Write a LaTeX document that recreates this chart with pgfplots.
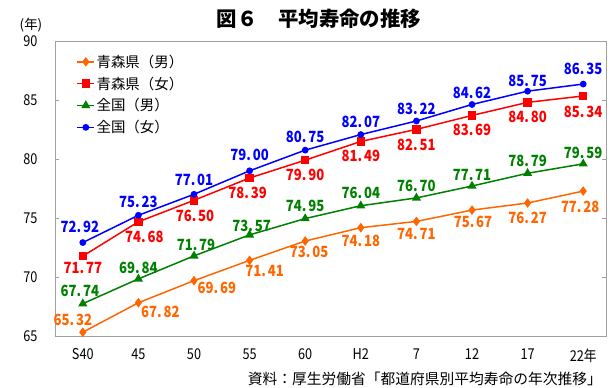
\documentclass[border=0pt]{standalone}
\usepackage{fontspec}
\setmainfont{Noto Sans CJK JP}
\newfontfamily\narrowfont[FakeStretch=0.85]{Noto Sans CJK JP}
\usepackage{pgfplots}
\pgfplotsset{compat=1.18}
\usepackage{pgfplotstable}

\definecolor{cOrange}{RGB}{255,102,0}
\definecolor{cRed}{RGB}{255,0,0}
\definecolor{cGreen}{RGB}{0,128,0}
\definecolor{cBlue}{RGB}{0,0,255}
\definecolor{frameGray}{RGB}{160,160,160}

% columns: position, life expectancy, label offset x/y (bp)
\pgfplotstableread{
x y dx dy
0 65.32 -10 12
1 67.82 22 -9
2 69.69 23 -7
3 71.41 15 -11
4 73.05 4 -11
5 74.18 0 -13
6 74.71 0 -13
7 75.67 1 -12
8 76.27 0 -15
9 77.28 -3 -16
}\aomoriM

\pgfplotstableread{
x y dx dy
0 71.77 0 -12
1 74.68 6 -15
2 76.50 1 -16
3 78.39 -2 -15
4 79.90 0 -15
5 81.49 0 -15
6 82.51 0 -16
7 83.69 0 -14
8 84.80 0 -15
9 85.34 0 -16
}\aomoriF

\pgfplotstableread{
x y dx dy
0 67.74 -3 13
1 69.84 0 11
2 71.79 2 11
3 73.57 2 9
4 74.95 0 13
5 76.04 0 13
6 76.70 0 12
7 77.71 0 11
8 78.79 0 12
9 79.59 0 11
}\japanM

\pgfplotstableread{
x y dx dy
0 72.92 -3 16
1 75.23 0 13
2 77.01 0 14
3 79.00 0 16
4 80.75 0 13
5 82.07 0 13
6 83.22 0 12
7 84.62 0 12
8 85.75 0 10
9 86.35 0 15
}\japanF

\pgfplotsset{
  series/.style={#1, line width=1.5bp, mark options={solid, fill=#1}},
  sOrange/.style={series=cOrange, mark=diamond*, mark size=3.6bp},
  sRed/.style={series=cRed, mark=square*, mark size=3.5bp},
  sGreen/.style={series=cGreen, mark=triangle*, mark size=3.8bp},
  sBlue/.style={series=cBlue, mark=*, mark size=2.6bp},
  valuelabels/.style={
    nodes near coords={\pgfmathprintnumber[fixed,fixed zerofill,precision=2,dec sep={.\hspace{0.12em}}]{\pgfplotspointmeta}},
    visualization depends on={\thisrow{dx} \as \dx},
    visualization depends on={\thisrow{dy} \as \dy},
    every node near coord/.append style={anchor=center, inner sep=0pt,
      xshift=\dx, yshift=\dy, text=#1,
      font=\narrowfont\bfseries\fontsize{15.5}{17}\selectfont},
  },
}

\begin{document}
\begin{tikzpicture}
\useasboundingbox (-55bp,-52bp) rectangle (558bp,336bp);
\begin{axis}[
  at={(0,0)}, anchor=south west,
  scale only axis, width=551bp, height=295bp,
  xmin=-0.5, xmax=9.41, ymin=65, ymax=90,
  xtick={0,...,9},
  xticklabels={S40,45,50,55,60,H2,7,12,17,22年},
  ytick={65,70,...,90},
  /pgf/number format/assume math mode=true,
  axis line style={draw=frameGray},
  tick style={draw=frameGray},
  major tick length=4bp,
  x tick style={draw=none},
  tick label style={font=\narrowfont\fontsize{15}{17}\selectfont, text=black},
  yticklabel style={xshift=-14bp},
  xticklabel style={yshift=-9bp},
  clip=false,
  legend style={draw=none, fill=none, at={(rel axis cs:0.037,0.962)}, anchor=north west,
    font=\fontsize{14.5}{16}\selectfont, row sep=5bp, inner sep=1pt,
    nodes={inner sep=1.5pt}, cells={anchor=west}},
  legend cell align=left,
]
% legend swatches
\addlegendimage{sOrange}
\addlegendentry{青森県（男）}
\addlegendimage{sRed}
\addlegendentry{青森県（女）}
\addlegendimage{sGreen}
\addlegendentry{全国（男）}
\addlegendimage{sBlue}
\addlegendentry{全国（女）}
% series
\addplot[sOrange, valuelabels=cOrange, forget plot] table[x=x,y=y] {\aomoriM};
\addplot[sRed, valuelabels=cRed, forget plot] table[x=x,y=y] {\aomoriF};
\addplot[sGreen, valuelabels=cGreen, forget plot] table[x=x,y=y] {\japanM};
\addplot[sBlue, valuelabels=cBlue, forget plot] table[x=x,y=y] {\japanF};
\end{axis}
\node[font=\bfseries\fontsize{20.5}{24}\selectfont] at (264bp,317bp) {図６　平均寿命の推移};
\node[font=\fontsize{13.5}{15}\selectfont] at (-24bp,311bp) {(年)};
\node[anchor=east, inner sep=0pt, font=\fontsize{14.8}{17}\selectfont] at (547bp,-43bp) {資料：厚生労働省「都道府県別平均寿命の年次推移」};
\end{tikzpicture}
\end{document}
